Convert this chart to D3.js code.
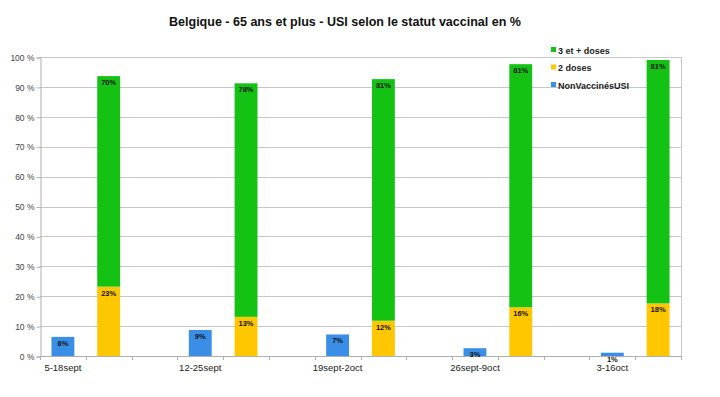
<!DOCTYPE html>
<html>
<head>
<meta charset="utf-8">
<script src="https://cdn.jsdelivr.net/npm/d3@7"></script>
<style>
  body { margin: 0; background: #fff; }
  svg { font-family: "Liberation Sans", Arial, sans-serif; }
</style>
</head>
<body>
<svg width="720" height="397"></svg>
<script>
var categories = ["5-18sept", "12-25sept", "19sept-2oct", "26sept-9oct", "3-16oct"];
var nonVaccines = [6.4, 8.7, 7.2, 2.6, 1.1];
var deuxDoses = [23.2, 13.1, 11.8, 16.3, 17.6];
var troisDoses = [70.4, 78.1, 80.8, 81.3, 81.4];
var yTicks = [0, 10, 20, 30, 40, 50, 60, 70, 80, 90, 100];
var seriesNames = ["3 et + doses", "2 doses", "NonVaccinésUSI"];
var colors = { blue: "#3a8ee6", yellow: "#ffc700", green: "#14c214" };

var svg = d3.select("svg");
var plotLeft = 40, plotRight = 681, plotTop = 57, plotBottom = 356;

// 3 slots per week (blue, stacked, gap), no gap after the last one
var slots = [];
categories.forEach(function (c, i) {
    slots.push("b" + i, "s" + i);
    if (i < categories.length - 1) slots.push("g" + i);
});

var x = d3.scaleBand().domain(slots).range([plotLeft, plotRight]).paddingInner(0.5).paddingOuter(0.25);
var step = x.step();
var y = d3.scaleLinear().domain([0, 100]).range([plotBottom, plotTop]);

// title
svg.append("text")
    .attr("x", 345).attr("y", 26)
    .attr("text-anchor", "middle")
    .attr("font-size", 13).attr("font-weight", "bold")
    .attr("fill", "#111")
    .attr("textLength", 352).attr("lengthAdjust", "spacingAndGlyphs")
    .text("Belgique - 65 ans et plus - USI selon le statut vaccinal en %");

// grid
svg.append("g").selectAll("line").data(yTicks.slice(1)).enter().append("line")
    .attr("x1", plotLeft).attr("x2", plotRight)
    .attr("y1", function (d) { return Math.round(y(d)) + 0.5; })
    .attr("y2", function (d) { return Math.round(y(d)) + 0.5; })
    .attr("stroke", "#c8c8c8");
svg.append("line")
    .attr("x1", plotRight + 0.5).attr("x2", plotRight + 0.5)
    .attr("y1", plotTop).attr("y2", plotBottom)
    .attr("stroke", "#c8c8c8");

// y axis
var yAxis = svg.append("g")
    .attr("transform", "translate(" + (plotLeft + 0.5) + ",0.5)")
    .call(d3.axisLeft(y).tickValues(yTicks).tickSize(4).tickPadding(2)
        .tickFormat(function (d) { return d + " %"; }));
yAxis.selectAll("text").attr("font-size", 8.5).attr("fill", "#444")
    .attr("font-family", "Liberation Sans, Arial, sans-serif");
yAxis.selectAll("line, path").attr("stroke", "#b0b0b0");

// x axis: ticks at slot boundaries
var bounds = d3.range(slots.length + 1).map(function (i) { return plotLeft + i * step; });
svg.append("line")
    .attr("x1", plotLeft).attr("x2", plotRight)
    .attr("y1", plotBottom + 0.5).attr("y2", plotBottom + 0.5)
    .attr("stroke", "#b0b0b0");
svg.append("g").selectAll("line").data(bounds).enter().append("line")
    .attr("x1", function (d) { return Math.round(d) + 0.5; })
    .attr("x2", function (d) { return Math.round(d) + 0.5; })
    .attr("y1", plotBottom).attr("y2", plotBottom + 4)
    .attr("stroke", "#b0b0b0");
svg.append("g").selectAll("text").data(categories).enter().append("text")
    .attr("x", function (d, i) { return x("b" + i) + x.bandwidth() / 2; })
    .attr("y", 371)
    .attr("text-anchor", "middle")
    .attr("font-size", 9.5).attr("fill", "#222")
    .text(function (d) { return d; });

// bars
var bars = svg.append("g");
function label(cx, yTop, v) {
    bars.append("text")
        .attr("x", cx).attr("y", yTop + 9)
        .attr("text-anchor", "middle")
        .attr("font-size", 7.5).attr("font-weight", "bold")
        .attr("fill", "#111")
        .text(Math.round(v) + "%");
}
categories.forEach(function (c, i) {
    var bx = x("b" + i), sx = x("s" + i), w = x.bandwidth();
    bars.append("rect").attr("x", bx).attr("y", y(nonVaccines[i]))
        .attr("width", w).attr("height", plotBottom - y(nonVaccines[i]))
        .attr("fill", colors.blue);
    bars.append("rect").attr("x", sx).attr("y", y(deuxDoses[i]))
        .attr("width", w).attr("height", plotBottom - y(deuxDoses[i]))
        .attr("fill", colors.yellow);
    var tot = deuxDoses[i] + troisDoses[i];
    bars.append("rect").attr("x", sx).attr("y", y(tot))
        .attr("width", w).attr("height", y(deuxDoses[i]) - y(tot))
        .attr("fill", colors.green);
    label(bx + w / 2, y(nonVaccines[i]), nonVaccines[i]);
    label(sx + w / 2, y(deuxDoses[i]), deuxDoses[i]);
    label(sx + w / 2, y(tot), troisDoses[i]);
});

// legend
var legColors = [colors.green, colors.yellow, colors.blue];
var leg = svg.append("g").selectAll("g").data(seriesNames).enter().append("g")
    .attr("transform", function (d, i) { return "translate(551," + (50 + i * 17.5) + ")"; });
leg.append("rect").attr("x", 0).attr("y", -3).attr("width", 5).attr("height", 5)
    .attr("fill", function (d, i) { return legColors[i]; });
leg.append("text").attr("x", 7).attr("y", 3.5)
    .attr("font-size", 9).attr("font-weight", "bold").attr("fill", "#222")
    .text(function (d) { return d; });
</script>
</body>
</html>
